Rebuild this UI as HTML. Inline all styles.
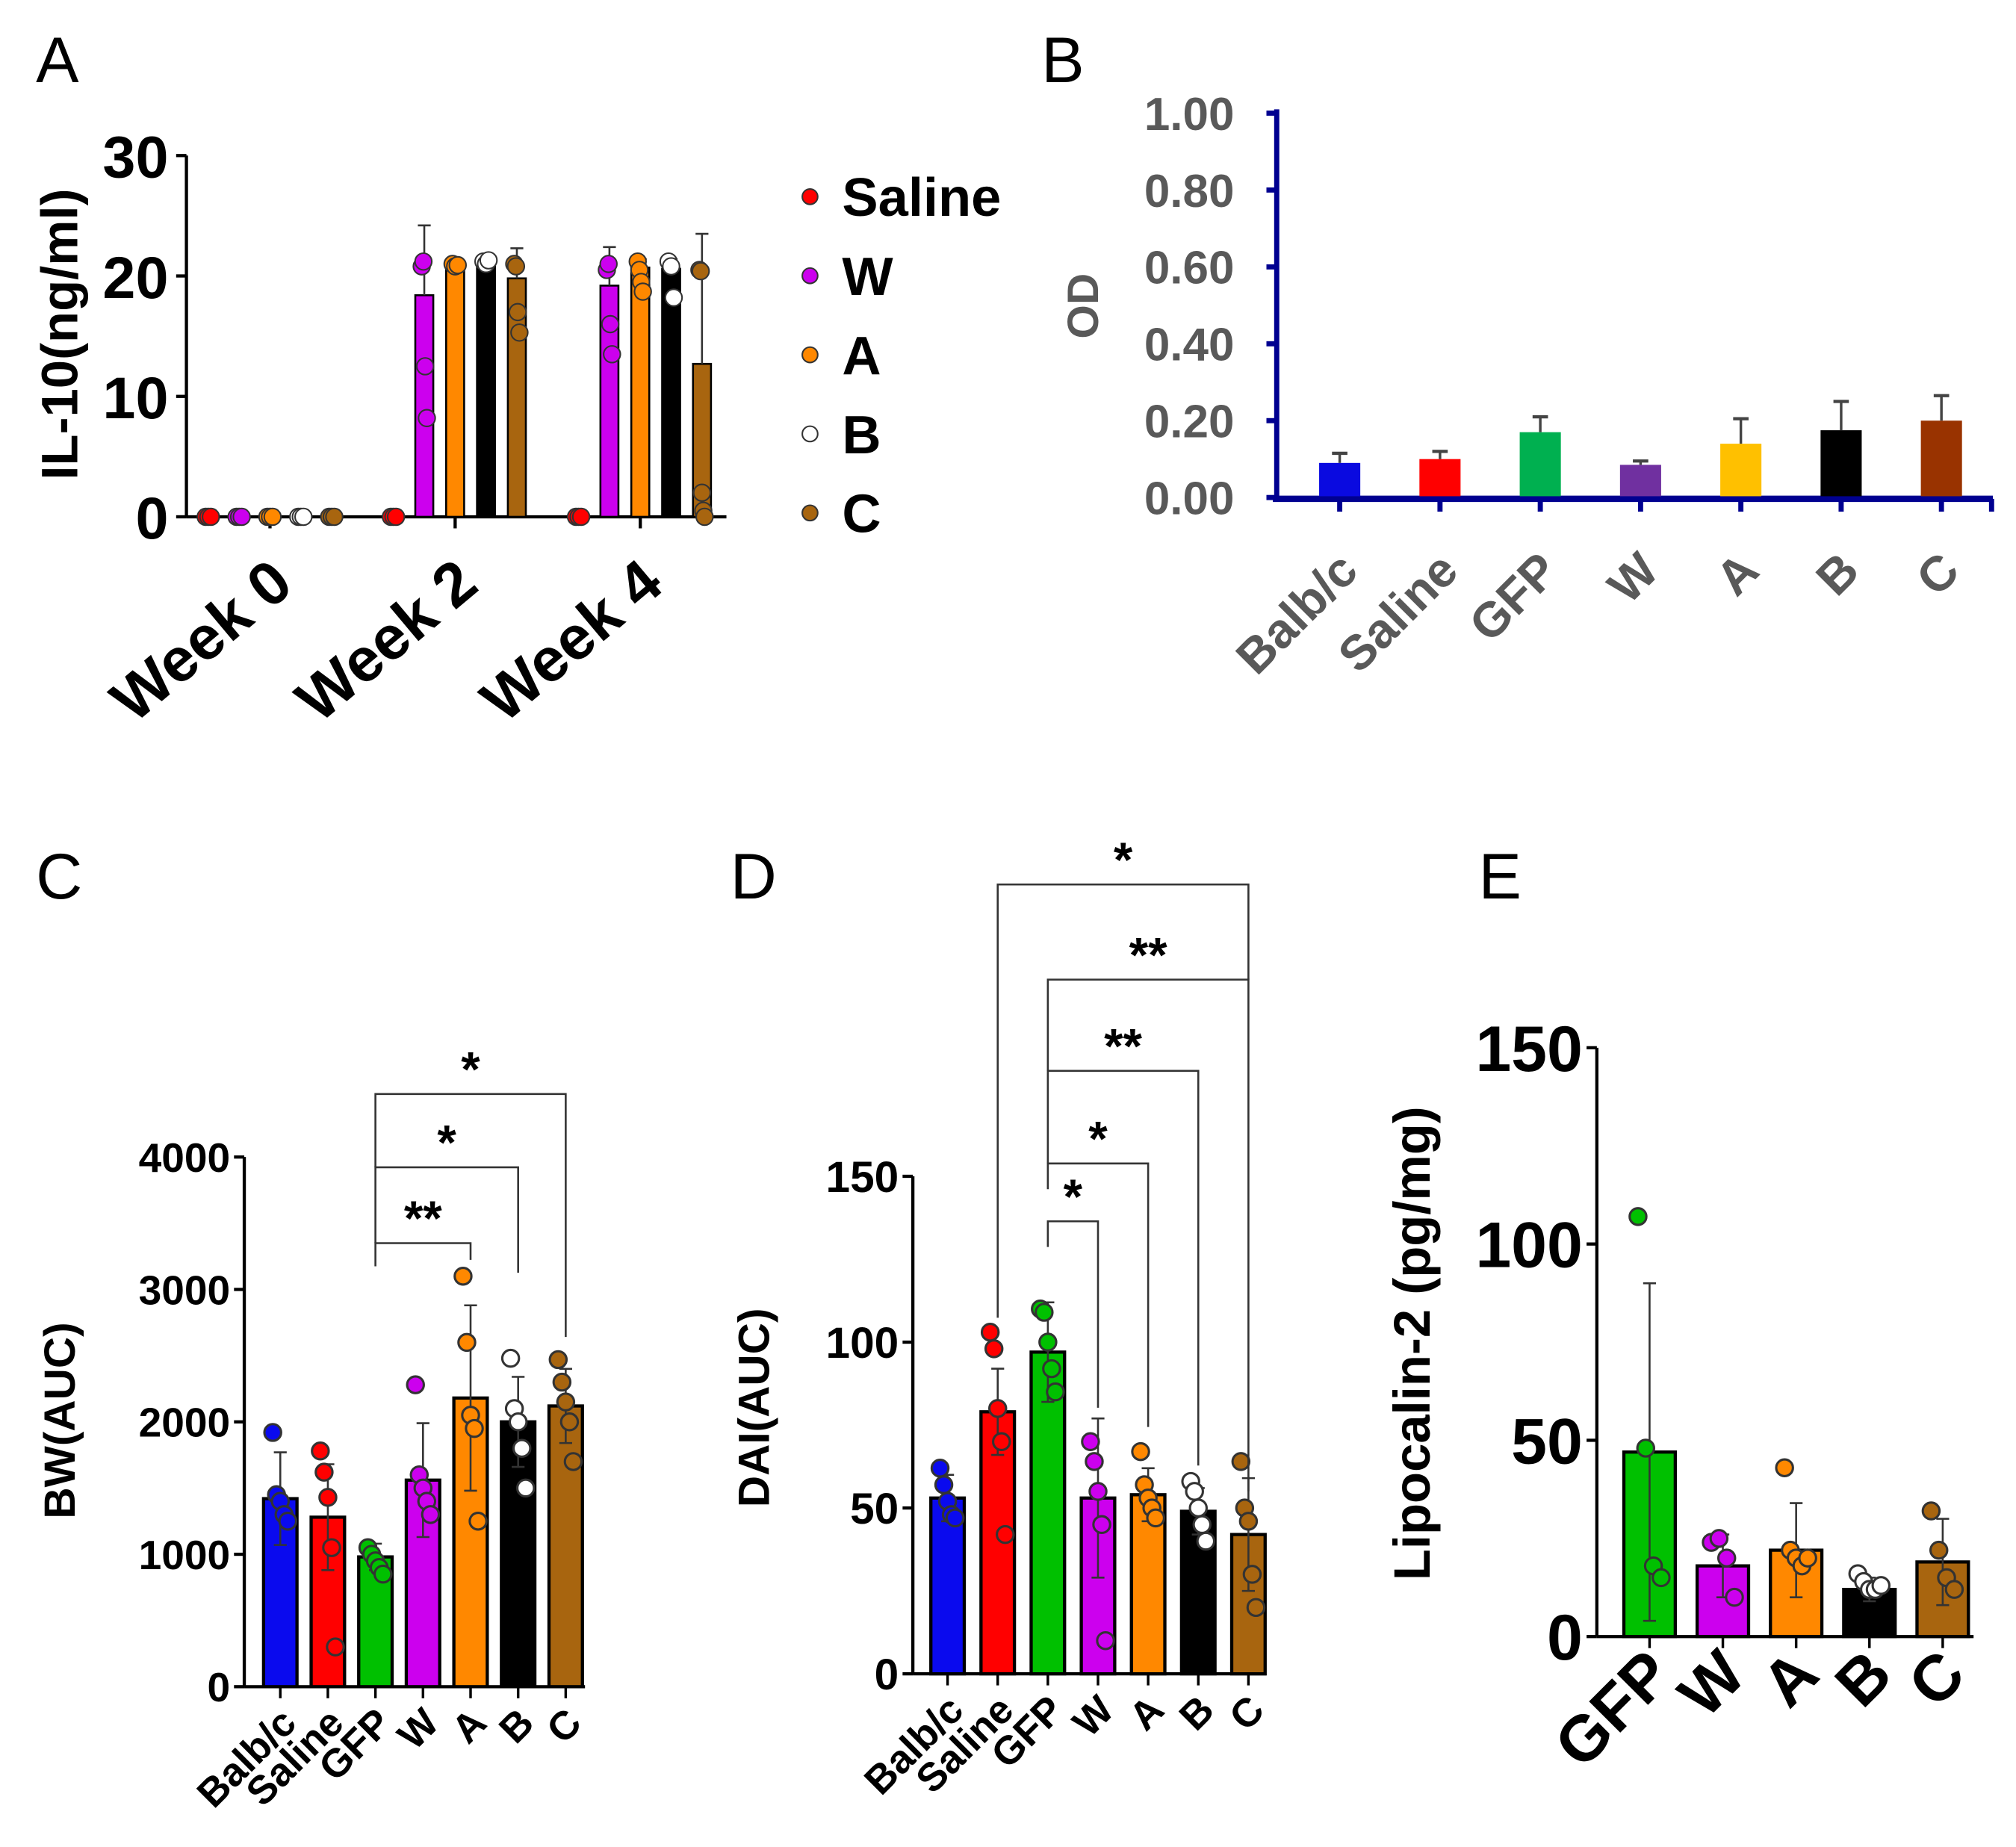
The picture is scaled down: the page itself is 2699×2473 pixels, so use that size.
<!DOCTYPE html>
<html><head><meta charset="utf-8"><style>
html,body{margin:0;padding:0;background:#fff}
svg{display:block}
text{font-family:"Liberation Sans",Arial,sans-serif}
</style></head><body>
<svg id="fig" width="2699" height="2473" viewBox="0 0 1568 1436.7" xmlns="http://www.w3.org/2000/svg"></svg>
<script>
// ---------- Panel A data ----------
const aWeeks = ["Week 0","Week 2","Week 4"];
const aGroups = ["Saline","W","A","B","C"];
const aColors = ["#ff0000","#cc00ee","#ff8800","#000000","#a8650f"];
const aDotColors = ["#ff0000","#cc00ee","#ff8800","#ffffff","#a8650f"];
const aMeans = [[0,0,0,0,0],[0,18.4,20.8,20.9,19.8],[0,19.2,20.7,20.6,12.7]];
const aErrTop = [[0,0,0,0,0],[0,24.2,21.2,21.3,22.3],[0,22.4,21.4,21.4,23.5]];
const aDots = [
 [[0,0,0],[0,0,0],[0,0,0],[0,0,0],[0,0,0]],
 [[0,0,0],[20.8,21.2,12.5,8.2],[21,20.8,20.9],[21.2,21,21.3],[21,20.8,17,15.3]],
 [[0,0,0],[20.5,21,16,13.5],[21.2,20.5,19.5,18.7],[21.2,20.8,18.2],[20.5,20.4,2,0.5,0]]
];
const aTicks = [0,10,20,30];
// ---------- Panel B data ----------
const bCats = ["Balb/c","Saline","GFP","W","A","B","C"];
const bVals = [0.09,0.10,0.17,0.085,0.14,0.175,0.20];
const bErr = [0.115,0.12,0.21,0.095,0.205,0.25,0.265];
const bColors = ["#0a0ae0","#ff0000","#00b050","#7030a0","#ffc000","#000000","#993300"];
const bTicks = ["0.00","0.20","0.40","0.60","0.80","1.00"];
// ---------- Panel C data ----------
const cCats = ["Balb/c","Saline","GFP","W","A","B","C"];
const cColors = ["#0a0aee","#ff0000","#00c000","#cc00ee","#ff8800","#000000","#a8650f"];
const cDotColors = ["#0a0aee","#ff0000","#00c000","#cc00ee","#ff8800","#ffffff","#a8650f"];
const cVals = [1420,1280,980,1560,2180,2000,2120];
const cSd = [350,400,100,430,700,340,280];
const cDots = [[1920,1450,1400,1300,1250],[1780,1620,1430,1050,300],[1050,1000,950,900,850],[2280,1600,1500,1400,1300],[3100,2600,2050,1950,1250],[2480,2100,2000,1800,1500],[2470,2300,2150,2000,1700]];
const cTicks = [0,1000,2000,3000,4000];
// ---------- Panel D data ----------
const dCats = ["Balb/c","Saline","GFP","W","A","B","C"];
const dVals = [53,79,97,53,54,49,42];
const dSd = [7,13,15,24,8,7,17];
const dDots = [[62,57,52,48,47],[103,98,80,70,42],[110,109,100,92,85],[70,64,55,45,10],[67,57,53,50,47],[58,55,50,45,40],[64,50,46,30,20]];
const dTicks = [0,50,100,150];
// ---------- Panel E data ----------
const eCats = ["GFP","W","A","B","C"];
const eColors = ["#00c000","#cc00ee","#ff8800","#000000","#a8650f"];
const eDotColors = ["#00c000","#cc00ee","#ff8800","#ffffff","#a8650f"];
const eVals = [47,18,22,12,19];
const eSd = [43,8,12,3,11];
const eDots = [[107,48,18,15],[24,25,20,10],[43,22,20,18,20],[16,14,12,12,13],[32,22,15,12]];
const eTicks = [0,50,100,150];

const NS="http://www.w3.org/2000/svg";
const svg=document.getElementById('fig');
function el(tag,attrs,parent,txt){const e=document.createElementNS(NS,tag);for(const k in attrs)e.setAttribute(k,attrs[k]);if(txt!==undefined)e.textContent=txt;(parent||svg).appendChild(e);return e;}
function grp(name){const g=document.createElementNS(NS,'g');


svg.appendChild(g);return g;}
function lin(d0,d1,r0,r1){return v=>r0+(v-d0)/(d1-d0)*(r1-r0);}
function jitter(i,n){return n<=1?0:(i/(n-1)-0.5);}

// panel letters
[["A",28,64],["B",810,64],["C",28,699],["D",568,699],["E",1150,699]].forEach(p=>{
 const t=el('text',{x:p[1],y:p[2],'font-size':50},svg,p[0]);
 
 
});

// ================= Panel A =================
(function(){
 const g=grp('panel-a-chart');
 const y=lin(0,30,402,121);
 const weekX=[210,354,498]; const off=[-48,-24,0,24,48];
 el('line',{x1:145,y1:121,x2:145,y2:402,stroke:'#000','stroke-width':2.5},g);
 el('line',{x1:145,y1:402,x2:565,y2:402,stroke:'#000','stroke-width':2.5},g);
 aTicks.forEach(t=>{el('line',{x1:137,y1:y(t),x2:145,y2:y(t),stroke:'#000','stroke-width':2.5},g);
  const tx=el('text',{x:131,y:y(t)+17,'text-anchor':'end','font-size':46,'font-weight':'bold'},g,t);
  
  });
 const yt=el('text',{x:0,y:0,transform:'translate(60,260) rotate(-90)','text-anchor':'middle','font-size':40,'font-weight':'bold'},g,'IL-10(ng/ml)');
 
 
 aWeeks.forEach((w,wi)=>{
  el('line',{x1:weekX[wi],y1:402,x2:weekX[wi],y2:411,stroke:'#000','stroke-width':2.5},g);
  const lt=el('text',{x:0,y:0,transform:`translate(${weekX[wi]+20},${458}) rotate(-40)`,'text-anchor':'end','font-size':48,'font-weight':'bold'},g,w);
  
  
  aGroups.forEach((gn,gi)=>{
   const cx=weekX[wi]+off[gi];
   const m=aMeans[wi][gi];
   if(m>0){
    const b=el('rect',{x:cx-7,y:y(m),width:14,height:402-y(m),fill:aColors[gi],stroke:'#000','stroke-width':1.5},g);
    
    
    el('line',{x1:cx,y1:y(m),x2:cx,y2:y(aErrTop[wi][gi]),stroke:'#333','stroke-width':1.5},g);
    el('line',{x1:cx-5,y1:y(aErrTop[wi][gi]),x2:cx+5,y2:y(aErrTop[wi][gi]),stroke:'#333','stroke-width':1.5},g);
   }
   aDots[wi][gi].forEach((v,i)=>{const d=el('circle',{cx:cx+jitter(i,aDots[wi][gi].length)*4,cy:y(v),r:6.5,fill:aDotColors[gi],stroke:'#333','stroke-width':1.2},g);
    
    });
  });
 });
 aGroups.forEach((gn,gi)=>{const yy=153+gi*61.5;
  const d=el('circle',{cx:630,cy:yy,r:6,fill:aDotColors[gi],stroke:'#333','stroke-width':1.2},g);
  
  
  const t=el('text',{x:655,y:yy+15,'font-size':42,'font-weight':'bold'},g,gn);
  
  });
})();

// ================= Panel B =================
(function(){
 const g=grp('panel-b-chart');
 const y=lin(0,1,387,88);
 const x0=1042,step=78;
 el('line',{x1:993,y1:85,x2:993,y2:390,stroke:'#000090','stroke-width':4},g);
 el('line',{x1:990,y1:388,x2:1550,y2:388,stroke:'#000090','stroke-width':5},g);
 bTicks.forEach(t=>{const v=parseFloat(t);
  el('line',{x1:985,y1:y(v),x2:993,y2:y(v),stroke:'#000090','stroke-width':4},g);
  const tx=el('text',{x:960,y:y(v)+13,'text-anchor':'end','font-size':36,'font-weight':'bold',fill:'#595959'},g,t);
  
  });
 const yt=el('text',{x:0,y:0,transform:'translate(854,238) rotate(-90)','text-anchor':'middle','font-size':34,'font-weight':'bold',fill:'#595959'},g,'OD');
 
 
 bCats.forEach((c,i)=>{const cx=x0+i*step;
  el('line',{x1:cx,y1:388,x2:cx,y2:398,stroke:'#000090','stroke-width':4},g);
  const b=el('rect',{x:cx-16,y:y(bVals[i]),width:32,height:386-y(bVals[i]),fill:bColors[i]},g);
  
  
  el('line',{x1:cx,y1:y(bVals[i]),x2:cx,y2:y(bErr[i]),stroke:'#444','stroke-width':2},g);
  el('line',{x1:cx-6,y1:y(bErr[i]),x2:cx+6,y2:y(bErr[i]),stroke:'#444','stroke-width':2.5},g);
  const lt=el('text',{x:0,y:0,transform:`translate(${cx+16},${446}) rotate(-45)`,'text-anchor':'end','font-size':38,'font-weight':'bold',fill:'#595959'},g,c);
  
  });
 el('line',{x1:1549,y1:388,x2:1549,y2:398,stroke:'#000090','stroke-width':4},g);
})();

// generic dot bar chart
function dotBar(o){
 const g=grp(o.name);
 const y=lin(o.ymin,o.ymax,o.y0,o.y1);
 el('line',{x1:o.ax,y1:o.y1,x2:o.ax,y2:o.y0,stroke:'#000','stroke-width':2.5},g);
 el('line',{x1:o.ax,y1:o.y0,x2:o.xEnd,y2:o.y0,stroke:'#000','stroke-width':2.5},g);
 o.ticks.forEach(t=>{el('line',{x1:o.ax-8,y1:y(t),x2:o.ax,y2:y(t),stroke:'#000','stroke-width':2.5},g);
  const tx=el('text',{x:o.ax-11,y:y(t)+o.tfs*0.36,'text-anchor':'end','font-size':o.tfs,'font-weight':'bold'},g,t);
  
  });
 const yt=el('text',{x:0,y:0,transform:`translate(${o.titleX},${o.titleY}) rotate(-90)`,'text-anchor':'middle','font-size':o.titleFs,'font-weight':'bold'},g,o.title);
 
 
 o.cats.forEach((c,i)=>{const cx=o.x0+i*o.step;const hw=o.bw/2;
  el('line',{x1:cx,y1:o.y0,x2:cx,y2:o.y0+9,stroke:'#000','stroke-width':2},g);
  const b=el('rect',{x:cx-hw,y:y(o.vals[i]),width:o.bw,height:o.y0-y(o.vals[i]),fill:o.colors[i],stroke:'#000','stroke-width':2.5},g);
  
  
  const top=o.vals[i]+o.sd[i],bot=Math.max(0,o.vals[i]-o.sd[i]);
  el('line',{x1:cx,y1:y(top),x2:cx,y2:y(bot),stroke:'#333','stroke-width':1.5},g);
  el('line',{x1:cx-5,y1:y(top),x2:cx+5,y2:y(top),stroke:'#333','stroke-width':1.5},g);
  el('line',{x1:cx-5,y1:y(bot),x2:cx+5,y2:y(bot),stroke:'#333','stroke-width':1.5},g);
  o.dots[i].forEach((v,k)=>{const d=el('circle',{cx:cx+jitter(k,o.dots[i].length)*o.bw*0.45,cy:y(v),r:o.r,fill:o.dotColors[i],stroke:'#333','stroke-width':1.8},g);
   
   });
  const lt=el('text',{x:0,y:0,transform:`translate(${cx+o.lox},${o.y0+o.loy}) rotate(-45)`,'text-anchor':'end','font-size':o.lfs,'font-weight':'bold'},g,c);
  
  });
 (o.brackets||[]).forEach(br=>{const xa=o.x0+br[0]*o.step,xb=o.x0+br[1]*o.step;
  el('polyline',{points:`${xa},${br[3]} ${xa},${br[2]} ${xb},${br[2]} ${xb},${br[4]}`,fill:'none',stroke:'#333','stroke-width':1.5},g);
  const s=el('text',{x:(xa+xb)/2,y:br[2]-6,'text-anchor':'middle','font-size':38,'font-weight':'bold'},g,br[5]);
  
  });
}

dotBar({name:'panel-c-chart',cats:cCats,vals:cVals,sd:cSd,dots:cDots,colors:cColors,dotColors:cDotColors,ticks:cTicks,
 ymin:0,ymax:4000,y0:1312,y1:900,ax:190,xEnd:455,x0:218,step:37,bw:26,r:6.5,tfs:32,lfs:31,lox:14,loy:30,
 title:'BW(AUC)',titleX:58,titleY:1105,titleFs:34,
 brackets:[[2,4,967,985,980,'**'],[2,5,908,967,990,'*'],[2,6,851,908,1040,'*']]});
dotBar({name:'panel-d-chart',cats:dCats,vals:dVals,sd:dSd,dots:dDots,colors:cColors,dotColors:cDotColors,ticks:dTicks,
 ymin:0,ymax:150,y0:1302,y1:915,ax:710,xEnd:985,x0:737,step:39,bw:26,r:6.5,tfs:34,lfs:31,lox:14,loy:30,
 title:'DAI(AUC)',titleX:598,titleY:1095,titleFs:34,
 brackets:[[2,3,950,970,1095,'*'],[2,4,905,925,1110,'*'],[2,5,833,905,1140,'**'],[2,6,762,833,1160,'**'],[1,6,688,1025,762,'*']]});
dotBar({name:'panel-e-chart',cats:eCats,vals:eVals,sd:eSd,dots:eDots,colors:eColors,dotColors:eDotColors,ticks:eTicks,
 ymin:0,ymax:150,y0:1273,y1:815,ax:1242,xEnd:1535,x0:1283,step:57,bw:40,r:6.5,tfs:50,lfs:50,lox:20,loy:32,
 title:'Lipocalin-2 (pg/mg)',titleX:1112,titleY:1045,titleFs:40});
</script>
</body></html>
